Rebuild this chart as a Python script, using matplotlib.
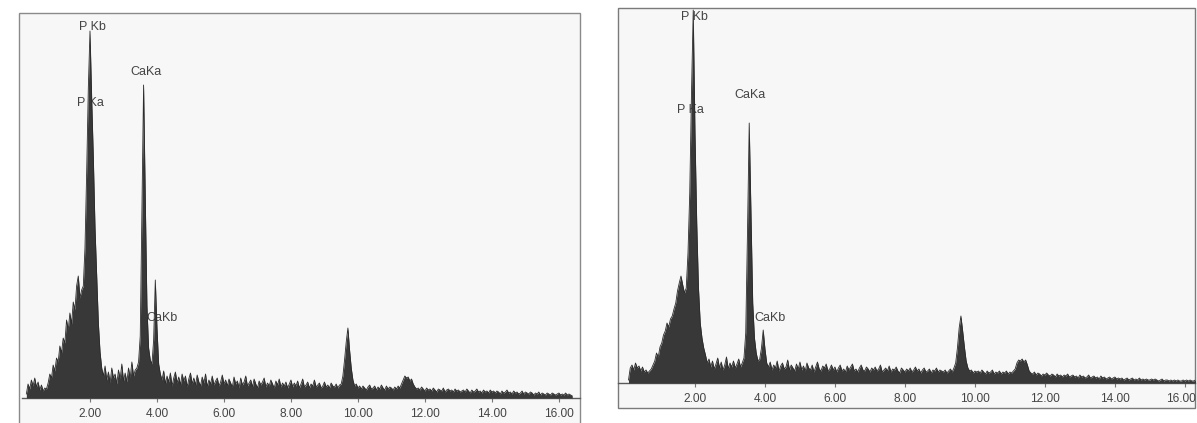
import numpy as np
import matplotlib.pyplot as plt
import matplotlib.transforms as mtransforms
from matplotlib.patches import Rectangle

plt.rcParams['font.family'] = ['Liberation Sans', 'DejaVu Sans']

# energy grid start / step (keV)
E0 = 0.10
DE = 0.05

# counts, 0.10 .. 16.40 keV
left_counts = [
    4, 14, 9, 18, 12, 20, 11, 16, 8, 13, 7, 10, 9, 15, 24, 20, 33, 27, 40, 36,
    52, 45, 60, 55, 78, 68, 85, 74, 96, 88, 112, 122, 100, 108, 112, 150, 225, 310, 367, 300,
    240, 170, 122, 75, 46, 30, 22, 32, 18, 26, 15, 30, 20, 24, 14, 28, 19, 34, 17, 25,
    16, 30, 20, 36, 22, 28, 30, 36, 62, 185, 313, 200, 92, 50, 38, 34, 58, 118, 70, 34,
    24, 18, 27, 14, 22, 16, 25, 12, 20, 26, 15, 21, 13, 24, 17, 22, 11, 19, 25, 14,
    20, 13, 23, 16, 12, 21, 15, 24, 11, 18, 14, 22, 13, 17, 20, 12, 16, 23, 14, 18,
    12, 19, 15, 11, 21, 14, 17, 10, 20, 13, 16, 22, 12, 15, 18, 11, 19, 14, 10, 17,
    13, 16, 20, 11, 15, 12, 18, 14, 10, 17, 13, 19, 11, 15, 12, 16, 10, 14, 18, 11,
    15, 12, 17, 10, 14, 19, 11, 13, 16, 10, 14, 12, 18, 11, 13, 15, 10, 12, 16, 11,
    13, 10, 15, 12, 11, 14, 10, 13, 14, 22, 38, 56, 70, 48, 30, 18, 12, 14, 10, 12,
    9, 12, 10, 8, 11, 13, 9, 10, 12, 8, 11, 9, 13, 10, 8, 12, 9, 11, 10, 8,
    11, 9, 12, 10, 14, 18, 22, 20, 21, 17, 19, 14, 11, 9, 10, 8, 11, 9, 7, 10,
    8, 9, 7, 10, 8, 6, 9, 8, 7, 10, 6, 8, 9, 7, 8, 6, 9, 7, 8, 6,
    7, 8, 6, 9, 7, 5, 8, 6, 7, 9, 6, 7, 5, 8, 6, 7, 5, 8, 6, 7,
    5, 7, 6, 4, 7, 5, 6, 8, 5, 6, 4, 7, 5, 6, 4, 5, 7, 4, 6, 5,
    4, 6, 5, 3, 5, 4, 6, 3, 5, 4, 3, 5, 4, 3, 5, 4, 3, 4, 5, 3,
    4, 3, 5, 3, 4, 3, 2,
]

# counts, 0.10 .. 16.40 keV
right_counts = [
    3, 15, 18, 13, 20, 15, 17, 12, 16, 11, 13, 10, 12, 14, 18, 22, 30, 26, 36, 40,
    48, 52, 60, 56, 64, 67, 74, 80, 92, 100, 107, 98, 90, 95, 130, 190, 290, 373, 250, 160,
    95, 60, 45, 35, 28, 20, 24, 16, 22, 14, 19, 25, 15, 21, 13, 18, 26, 14, 20, 16,
    22, 15, 19, 24, 16, 20, 25, 50, 150, 260, 170, 80, 45, 30, 22, 24, 35, 53, 34, 20,
    16, 21, 13, 18, 15, 22, 12, 17, 20, 14, 16, 23, 13, 18, 15, 12, 19, 14, 21, 13,
    17, 12, 20, 15, 13, 18, 11, 16, 21, 14, 12, 17, 15, 19, 12, 14, 18, 13, 16, 11,
    15, 18, 12, 14, 11, 17, 13, 16, 19, 12, 14, 11, 15, 18, 13, 12, 16, 14, 11, 15,
    13, 16, 12, 14, 18, 11, 13, 15, 12, 17, 11, 14, 13, 16, 12, 10, 15, 13, 11, 14,
    12, 15, 11, 13, 16, 12, 14, 10, 13, 15, 11, 12, 14, 10, 13, 12, 15, 11, 13, 12,
    11, 13, 10, 12, 14, 11, 15, 20, 35, 55, 67, 52, 36, 22, 15, 12, 13, 10, 12, 11,
    12, 10, 13, 11, 9, 12, 10, 11, 13, 9, 11, 10, 12, 9, 11, 10, 12, 9, 11, 10,
    12, 14, 20, 23, 22, 24, 21, 23, 18, 12, 10, 9, 11, 8, 10, 9, 7, 9, 8, 10,
    8, 7, 9, 8, 6, 9, 7, 8, 6, 8, 7, 9, 6, 7, 8, 6, 7, 5, 8, 6,
    7, 5, 6, 8, 5, 6, 7, 5, 6, 4, 7, 5, 6, 4, 5, 6, 4, 5, 6, 4,
    5, 4, 5, 3, 4, 5, 3, 4, 5, 3, 4, 3, 5, 3, 4, 3, 4, 3, 3, 4,
    3, 4, 3, 2, 3, 4, 2, 3, 3, 2, 3, 2, 3, 2, 3, 2, 2, 3, 2, 3,
    2, 3, 2, 2, 3, 2, 2,
]

tick_vals = [2, 4, 6, 8, 10, 12, 14, 16]
tick_text = ['2.00', '4.00', '6.00', '8.00', '10.00', '12.00', '14.00', '16.00']

# peak labels: text, left x (keV), y (counts)
left_labels = [('P Kb', 1.68, 371), ('P Ka', 1.60, 295), ('CaKa', 3.22, 326), ('CaKb', 3.68, 80)]
right_labels = [('P Kb', 1.61, 366), ('P Ka', 1.49, 273), ('CaKa', 3.12, 288), ('CaKb', 3.69, 65)]

W, H = 1197, 423
fig = plt.figure(figsize=(W / 100, H / 100), dpi=100)
fig.patch.set_facecolor('white')


def px_rect(l, t, r, b):
    return [l / W, 1 - b / H, (r - l) / W, (b - t) / H]


def panel(ax_px, frame_px, xlim, ytop, counts, labels, frame_col):
    l, t, r, b = frame_px
    fig.patches.append(Rectangle((l / W, 1 - b / H), (r - l) / W, (b - t) / H,
                                 transform=fig.transFigure, facecolor='#f7f7f8',
                                 edgecolor=frame_col, lw=1.0, zorder=-5))
    ax = fig.add_axes(px_rect(*ax_px))
    ax.set_zorder(2)
    ax.patch.set_alpha(0)
    kev = E0 + DE * np.arange(len(counts))
    y = np.array(counts, dtype=float)
    ax.fill_between(kev, y, color='#383838', lw=0, zorder=3)
    ax.plot(kev, y, color='#2b2b2b', lw=0.6, zorder=3)
    for txt, x, yy in labels:
        ax.text(x, yy, txt, ha='left', va='center', fontsize=9, color='#444444', zorder=2)
    ax.set_xlim(*xlim)
    ax.set_ylim(0, ytop)
    for s in ['top', 'left', 'right']:
        ax.spines[s].set_visible(False)
    ax.spines['bottom'].set_color('#5a5a5a')
    ax.spines['bottom'].set_linewidth(1.0)
    ax.set_yticks([])
    ax.set_xticks(tick_vals)
    ax.set_xticklabels(tick_text)
    ax.tick_params(axis='x', length=3, width=0.8, color='#777777', pad=4,
                   labelsize=8.6, labelcolor='#444444')
    return ax


panel((22, 13, 580, 398), (19, 13, 580, 440), (-0.03, 16.63), 385,
      left_counts, left_labels, '#8a8a8a')
ax2 = panel((618, 8, 1195, 383), (618, 8, 1195, 408), (-0.2, 16.29), 375,
            right_counts, right_labels, '#7a7a7a')

# last label sits right at the page edge, pull it in a few pixels
last = ax2.get_xticklabels()[-1]
last.set_transform(last.get_transform() +
                   mtransforms.ScaledTranslation(-4 / 100, 0, fig.dpi_scale_trans))

fig.savefig('out.png', dpi=100, facecolor='white')
